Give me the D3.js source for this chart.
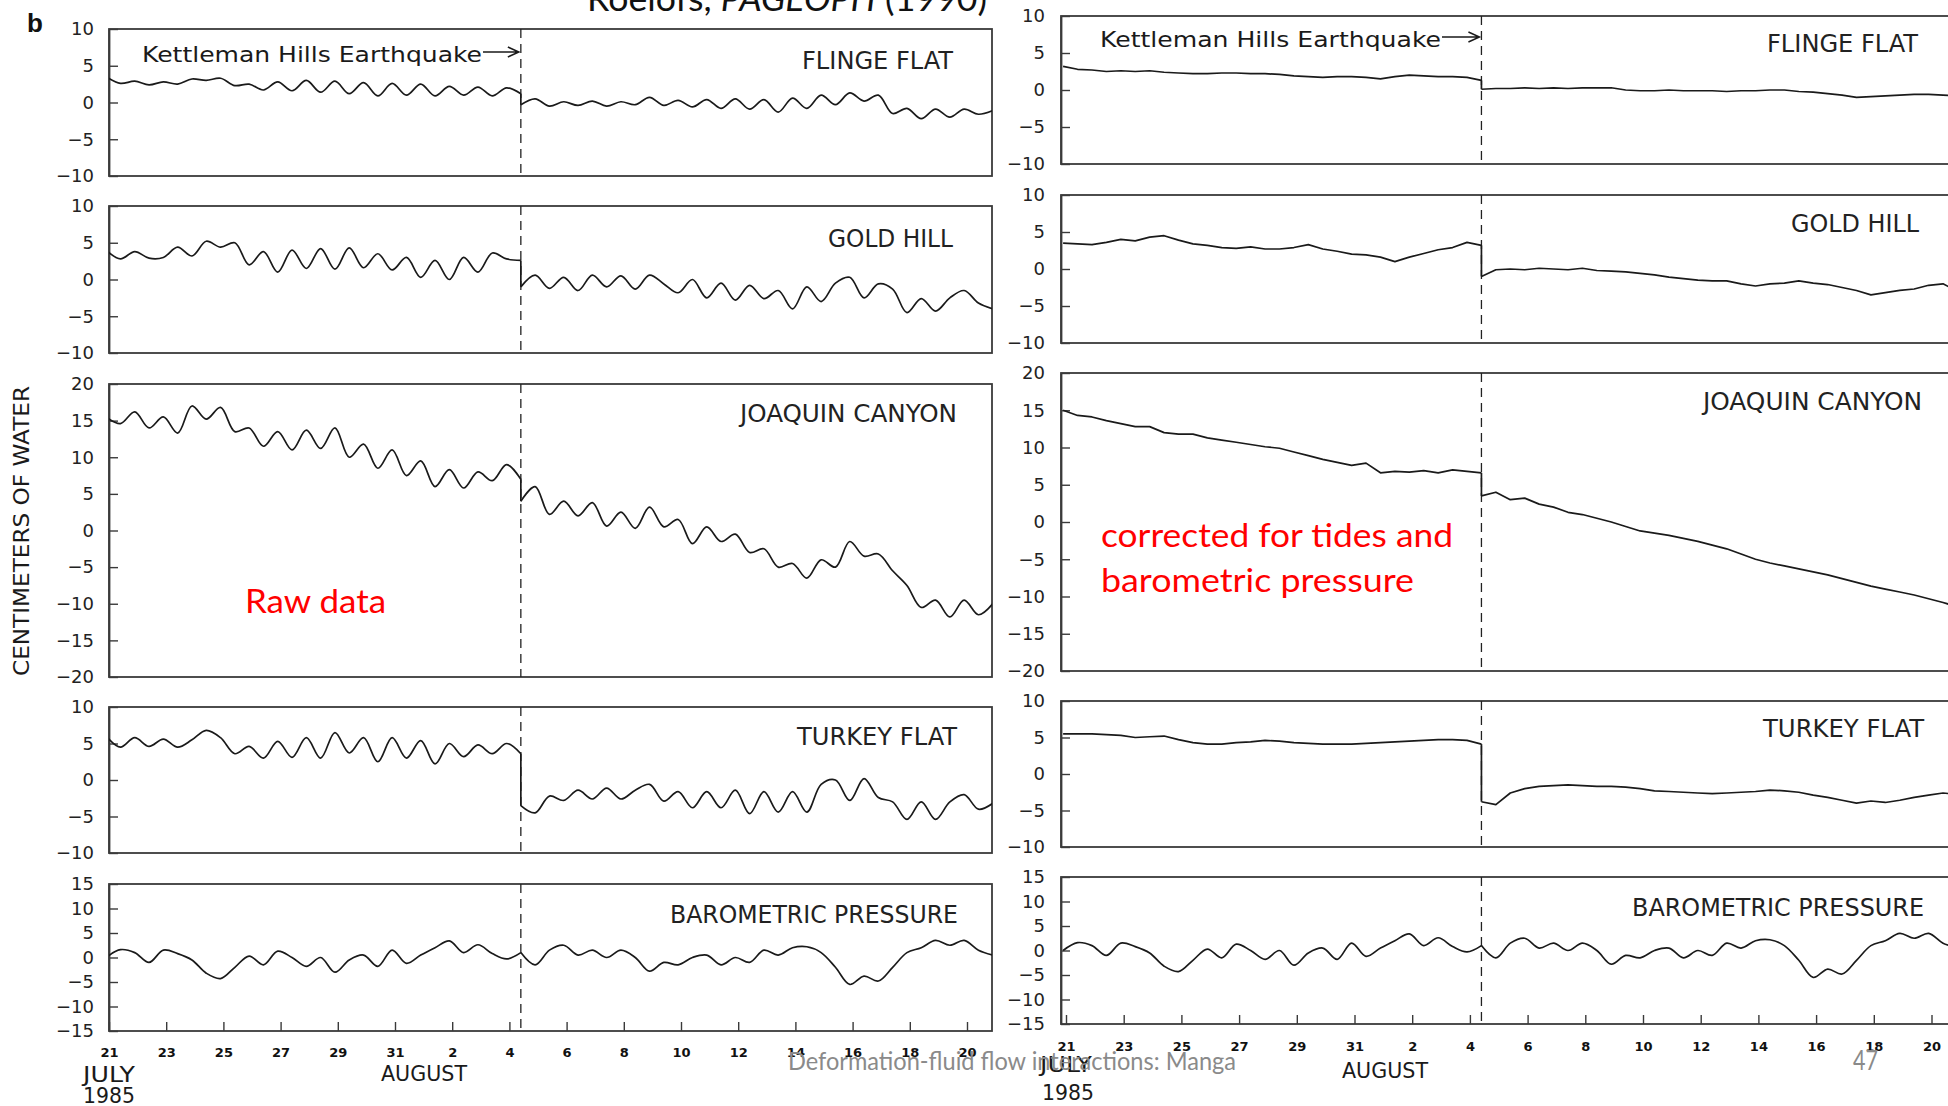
<!DOCTYPE html>
<html>
<head>
<meta charset="utf-8">
<script src="https://cdn.jsdelivr.net/npm/d3@7"></script>
<style>
  html, body { margin: 0; padding: 0; background: #fff; }
  svg { display: block; }
</style>
</head>
<body>
<svg id="chart" width="1948" height="1106"></svg>
<script>
// ---------------- data ----------------
// Time is counted in days after 21 July 1985 (00h). Water levels in cm of water.
const QUAKE_DAY = 14.4;     // Kettleman Hills earthquake, 4 August 1985
const SAMPLE_STEP = 0.5;    // readings every half day

const dayTicks = [0, 2, 4, 6, 8, 10, 12, 14, 16, 18, 20, 22, 24, 26, 28, 30];
const dayTickLabels = ["21", "23", "25", "27", "29", "31", "2", "4", "6", "8", "10", "12", "14", "16", "18", "20"];

const stations = ["FLINGE FLAT", "GOLD HILL", "JOAQUIN CANYON", "TURKEY FLAT", "BAROMETRIC PRESSURE"];
const yDomains = [[-10, 10], [-10, 10], [-20, 20], [-10, 10], [-15, 15]];

// Raw records: 30 readings up to the quake, 34 readings from the quake on
const flingeRawPre  = [3.5, 2.6, 2.9, 2.4, 2.8, 2.5, 3.2, 3.0, 3.3, 2.3, 2.5, 1.7, 2.8, 1.6, 3.0, 1.4, 2.9, 1.2, 2.7, 0.9, 2.6, 1.0, 2.5, 0.9, 2.2, 1.0, 2.1, 0.9, 2.0, 1.2];
const flingeRawPost = [-0.3, 0.5, -0.5, 0.1, -0.4, 0.2, -0.5, 0.1, -0.3, 0.7, -0.4, 0.3, -0.6, 0.4, -0.8, 0.5, -0.9, 0.4, -1.3, 0.6, -0.8, 1.0, -0.3, 1.3, 0.2, 1.0, -1.5, -0.8, -2.2, -0.9, -2.0, -0.9, -1.6, -1.1];

const goldRawPre  = [4.0, 2.8, 3.8, 2.9, 3.0, 4.4, 3.2, 5.2, 4.4, 5.0, 2.0, 3.8, 1.0, 4.0, 1.5, 4.2, 1.4, 4.3, 1.6, 3.5, 1.3, 3.0, 0.3, 2.6, 0.0, 3.0, 1.0, 3.6, 2.8, 2.6];
const goldRawPost = [-1.0, 0.6, -1.2, 0.3, -1.5, 0.6, -1.0, 0.5, -1.3, 0.6, -0.6, -1.8, 0.0, -2.5, -0.5, -2.8, -0.8, -2.6, -1.5, -4.0, -1.0, -3.0, -0.5, 0.3, -2.5, -0.6, -1.3, -4.5, -2.6, -4.3, -2.5, -1.5, -3.2, -4.0];

const joaquinRawPre  = [15.5, 14.6, 16.2, 14.0, 15.5, 13.3, 17.0, 15.2, 16.8, 13.5, 14.0, 11.5, 13.5, 11.0, 13.7, 11.2, 14.0, 10.0, 11.8, 8.5, 11.0, 7.5, 9.5, 6.0, 8.3, 5.8, 8.0, 6.8, 9.0, 7.0];
const joaquinRawPost = [4.0, 6.0, 2.2, 4.0, 2.0, 3.8, 0.6, 2.5, 0.3, 3.2, 0.5, 1.5, -1.8, 0.5, -1.5, -0.5, -3.0, -2.5, -5.0, -4.5, -6.5, -4.0, -5.0, -1.5, -3.5, -3.2, -5.5, -7.5, -10.5, -9.5, -11.8, -9.5, -11.5, -10.0];

const turkeyRawPre  = [6.0, 4.5, 5.8, 4.6, 5.6, 4.5, 5.5, 6.8, 5.8, 3.6, 4.6, 3.0, 5.3, 3.1, 5.8, 3.0, 6.5, 3.7, 5.8, 2.5, 5.8, 3.0, 5.4, 2.2, 5.0, 3.2, 4.8, 3.6, 5.0, 3.6];
const turkeyRawPost = [-3.5, -4.5, -2.2, -2.8, -1.4, -2.6, -1.1, -2.6, -1.4, -0.6, -2.9, -1.6, -3.8, -1.6, -3.8, -1.4, -4.6, -1.6, -4.4, -1.6, -4.4, -0.6, 0.0, -2.8, 0.2, -2.4, -3.0, -5.4, -3.0, -5.4, -3.0, -2.0, -4.0, -3.2];

// Barometric pressure (same record shown with both sets of wells)
const baroPre  = [0.0, 1.6, 1.0, -1.0, 1.5, 0.8, -0.5, -3.2, -4.3, -2.0, 0.3, -1.5, 1.3, 0.0, -1.8, 0.0, -3.0, -0.5, 0.5, -1.8, 1.5, -1.2, 0.5, 2.0, 3.4, 1.0, 2.6, 0.8, -0.3, 1.0];
const baroPost = [1.0, -1.5, 1.5, 2.5, 0.5, 1.5, 0.0, 1.5, 0.0, -2.8, -1.0, -1.5, 0.0, 0.5, -1.5, 0.0, -1.0, 1.5, 0.5, 2.0, 2.2, 1.0, -2.0, -5.5, -3.8, -4.8, -2.0, 1.0, 2.0, 3.5, 2.5, 3.5, 1.5, 0.5];

// Records corrected for earth tides and barometric pressure
const flingeCorrPre  = [3.2, 2.8, 2.7, 2.5, 2.6, 2.5, 2.6, 2.4, 2.3, 2.2, 2.2, 2.3, 2.3, 2.2, 2.2, 2.1, 1.9, 1.8, 1.7, 1.8, 1.8, 1.7, 1.5, 1.8, 2.0, 1.9, 1.8, 1.8, 1.7, 1.3];
const flingeCorrPost = [0.1, 0.2, 0.2, 0.3, 0.2, 0.3, 0.2, 0.3, 0.3, 0.3, 0.0, -0.1, -0.1, 0.0, -0.1, -0.1, -0.1, -0.2, -0.1, -0.1, 0.0, 0.0, -0.2, -0.3, -0.5, -0.7, -1.0, -0.9, -0.8, -0.7, -0.6, -0.6, -0.7, -0.8];

const goldCorrPre  = [3.5, 3.4, 3.3, 3.6, 4.0, 3.8, 4.3, 4.5, 3.9, 3.4, 3.2, 2.9, 2.8, 3.0, 2.7, 2.7, 2.9, 3.3, 2.7, 2.4, 2.0, 1.9, 1.6, 1.0, 1.6, 2.1, 2.6, 2.9, 3.6, 3.2];
const goldCorrPost = [-1.0, -0.1, 0.0, -0.1, 0.1, 0.0, -0.1, 0.1, -0.2, -0.3, -0.4, -0.6, -0.8, -1.1, -1.3, -1.5, -1.6, -1.6, -2.0, -2.3, -2.0, -1.9, -1.6, -1.9, -2.1, -2.5, -2.9, -3.5, -3.2, -2.9, -2.7, -2.2, -2.0, -3.0];

const joaquinCorrPre  = [15.0, 14.3, 14.1, 13.6, 13.2, 12.8, 12.8, 12.0, 11.8, 11.8, 11.3, 11.0, 10.7, 10.4, 10.1, 9.9, 9.4, 8.9, 8.4, 8.0, 7.6, 7.9, 6.6, 6.8, 6.7, 6.9, 6.6, 7.0, 6.8, 6.6];
const joaquinCorrPost = [3.5, 4.0, 3.0, 3.2, 2.4, 2.0, 1.3, 1.0, 0.5, 0.0, -0.6, -1.2, -1.5, -1.8, -2.2, -2.6, -3.1, -3.6, -4.3, -5.0, -5.5, -5.9, -6.3, -6.7, -7.1, -7.6, -8.1, -8.6, -9.0, -9.4, -9.8, -10.3, -10.8, -11.4];

const turkeyCorrPre  = [5.5, 5.5, 5.5, 5.4, 5.3, 5.0, 5.1, 5.2, 4.7, 4.3, 4.1, 4.1, 4.3, 4.4, 4.6, 4.5, 4.3, 4.2, 4.1, 4.1, 4.1, 4.2, 4.3, 4.4, 4.5, 4.6, 4.7, 4.7, 4.6, 4.1];
const turkeyCorrPost = [-3.8, -4.2, -2.6, -2.0, -1.7, -1.6, -1.5, -1.6, -1.7, -1.7, -1.8, -2.0, -2.3, -2.4, -2.5, -2.6, -2.7, -2.6, -2.5, -2.4, -2.2, -2.3, -2.5, -2.9, -3.2, -3.6, -4.0, -3.7, -3.9, -3.6, -3.2, -2.9, -2.6, -2.8];

const rawSeries = [
  [flingeRawPre, flingeRawPost], [goldRawPre, goldRawPost], [joaquinRawPre, joaquinRawPost],
  [turkeyRawPre, turkeyRawPost], [baroPre, baroPost]
];
const corrSeries = [
  [flingeCorrPre, flingeCorrPost], [goldCorrPre, goldCorrPost], [joaquinCorrPre, joaquinCorrPost],
  [turkeyCorrPre, turkeyCorrPost], [baroPre, baroPost]
];

// ---------------- layout ----------------
const smooth = d3.curveCatmullRom.alpha(0.5);
const groups = [
  {
    key: "raw",
    x0: 109, x30: 967, frameLeft: 109, frameRight: 992,
    panels: [[29, 176], [206, 353], [384, 677], [707, 853], [884, 1031]],
    labelRight: [953, 953, 957, 957, 958],
    labelWidth: [151, 125, 217, 160, 288],
    labelBase: [69, 247, 422, 745, 923],
    yPad: 15, xPad: 17,
    quake: { x: 142, base: 61.5, w: 340, arrowY: 52 },
    series: rawSeries,
    curves: [smooth, smooth, smooth, smooth, smooth],
    month: { july: [109, 1082], year: [109, 1103], aug: [424, 1081] }
  },
  {
    key: "corr",
    x0: 1066, x30: 1931.5, frameLeft: 1061, frameRight: 1958,
    panels: [[16, 164], [195, 343], [373, 671], [701, 847], [877, 1024]],
    labelRight: [1918, 1919, 1922, 1924, 1924],
    labelWidth: [151, 128, 219, 161, 292],
    labelBase: [51.5, 231.5, 410, 736.5, 916],
    yPad: 16, xPad: 18,
    quake: { x: 1100, base: 46.5, w: 341, arrowY: 37 },
    series: corrSeries,
    curves: [d3.curveLinear, d3.curveLinear, d3.curveLinear, d3.curveLinear, smooth],
    month: { july: [1066, 1072], year: [1068, 1100], aug: [1385, 1078] }
  }
];

const preDays = d3.range(30).map(i => QUAKE_DAY - SAMPLE_STEP * (29 - i));
const postDays = d3.range(34).map(i => QUAKE_DAY + SAMPLE_STEP * i);
const fmtTick = v => v < 0 ? "\u2212" + Math.abs(v) : String(v);

const svg = d3.select("#chart");
const defs = svg.append("defs");
const ink = "#1a1a1a";
const frameInk = "#3a3a3a";

groups.forEach(G => {
  const x = d3.scaleLinear().domain([0, 30]).range([G.x0, G.x30]);
  const root = svg.append("g").attr("class", "group-" + G.key);

  G.panels.forEach(([top, bottom], pi) => {
    const [lo, hi] = yDomains[pi];
    const y = d3.scaleLinear().domain([lo, hi]).range([bottom, top]);
    const pg = root.append("g");

    const clipId = `clip-${G.key}-${pi}`;
    defs.append("clipPath").attr("id", clipId)
      .append("rect")
      .attr("x", G.frameLeft).attr("y", top)
      .attr("width", G.frameRight - G.frameLeft).attr("height", bottom - top);

    // frame
    pg.append("rect")
      .attr("x", G.frameLeft).attr("y", top)
      .attr("width", G.frameRight - G.frameLeft).attr("height", bottom - top)
      .attr("fill", "none").attr("stroke", frameInk).attr("stroke-width", 1.8);

    // left axis, ticks pointing inward
    const ax = pg.append("g")
      .attr("transform", `translate(${G.frameLeft},0)`)
      .call(d3.axisLeft(y).tickValues(d3.range(lo, hi + 1, 5))
        .tickSize(-9).tickSizeOuter(0).tickPadding(G.yPad).tickFormat(fmtTick));
    ax.select(".domain").attr("stroke", frameInk).attr("stroke-width", 1.8);
    ax.selectAll(".tick line").attr("stroke", frameInk).attr("stroke-width", 1.4);
    ax.selectAll(".tick text")
      .attr("fill", "#222")
      .style("font-family", "'DejaVu Sans', sans-serif")
      .style("font-size", "18px");

    // earthquake marker
    pg.append("line")
      .attr("x1", x(QUAKE_DAY)).attr("x2", x(QUAKE_DAY))
      .attr("y1", top).attr("y2", bottom)
      .attr("stroke", "#222").attr("stroke-width", 1.3)
      .attr("stroke-dasharray", "9,6");

    // record
    const [pre, post] = G.series[pi];
    const preData = pre.map((v, i) => ({ t: preDays[i], v }));
    const postData = post.map((v, i) => ({ t: postDays[i], v }));
    const line = d3.line()
      .defined(d => d.v != null)
      .x(d => x(d.t)).y(d => y(d.v))
      .curve(G.curves[pi]);
    const lines = pg.append("g").attr("clip-path", `url(#${clipId})`)
      .attr("fill", "none").attr("stroke", ink)
      .attr("stroke-width", 1.7).attr("stroke-linejoin", "round");
    lines.append("path").attr("d", line(preData));
    lines.append("path").attr("d", line([preData[preData.length - 1], postData[0]]));
    lines.append("path").attr("d", line(postData));

    // station name
    pg.append("text")
      .attr("x", G.labelRight[pi] - G.labelWidth[pi]).attr("y", G.labelBase[pi])
      .attr("textLength", G.labelWidth[pi]).attr("lengthAdjust", "spacingAndGlyphs")
      .attr("fill", "#222")
      .style("font-family", "'DejaVu Sans', sans-serif")
      .style("font-stretch", "condensed")
      .style("font-size", "24px")
      .text(stations[pi]);

    // time axis under the last panel
    if (pi === G.panels.length - 1) {
      const bx = pg.append("g")
        .attr("transform", `translate(0,${bottom})`)
        .call(d3.axisBottom(x).tickValues(dayTicks)
          .tickSize(-9).tickSizeOuter(0).tickPadding(G.xPad)
          .tickFormat((d, i) => dayTickLabels[i]));
      bx.select(".domain").remove();
      bx.selectAll(".tick line").attr("stroke", frameInk).attr("stroke-width", 1.4);
      bx.selectAll(".tick text")
        .attr("fill", "#111")
        .style("font-family", "'DejaVu Sans', sans-serif")
        .style("font-weight", "bold")
        .style("font-size", "13px");
    }
  });

  // earthquake annotation in the first panel
  const q = G.quake;
  const xq = x(QUAKE_DAY);
  root.append("text")
    .attr("x", q.x).attr("y", q.base)
    .attr("textLength", q.w).attr("lengthAdjust", "spacingAndGlyphs")
    .attr("fill", "#1a1a1a")
    .style("font-family", "'DejaVu Sans', sans-serif")
    .style("font-size", "21px")
    .text("Kettleman Hills Earthquake");
  root.append("path")
    .attr("d", `M${q.x + q.w + 1},${q.arrowY} H${xq - 2} M${xq - 13},${q.arrowY - 5} L${xq - 2},${q.arrowY} L${xq - 13},${q.arrowY + 5}`)
    .attr("fill", "none").attr("stroke", "#1a1a1a").attr("stroke-width", 1.5);

  // month / year captions
  const cap = (pos, txt, w) => root.append("text")
    .attr("x", pos[0]).attr("y", pos[1]).attr("text-anchor", "middle")
    .attr("textLength", w).attr("lengthAdjust", "spacingAndGlyphs")
    .attr("fill", "#1a1a1a")
    .style("font-family", "'DejaVu Sans', sans-serif")
    .style("font-size", "22px")
    .text(txt);
  cap(G.month.july, "JULY", 52);
  cap(G.month.year, "1985", 52);
  cap(G.month.aug, "AUGUST", 86);
});

// shared vertical axis title
svg.append("text")
  .attr("transform", "translate(29,531) rotate(-90)")
  .attr("text-anchor", "middle")
  .attr("textLength", 290).attr("lengthAdjust", "spacingAndGlyphs")
  .attr("fill", "#1a1a1a")
  .style("font-family", "'DejaVu Sans', sans-serif")
  .style("font-size", "21px")
  .text("CENTIMETERS OF WATER");

// panel letter
svg.append("text")
  .attr("x", 27).attr("y", 32)
  .attr("fill", "#111")
  .style("font-family", "'Liberation Sans', Arial, sans-serif")
  .style("font-weight", "bold").style("font-size", "26px")
  .text("b");

// source line, partly above the page edge
const src = svg.append("text")
  .attr("x", 587).attr("y", 11)
  .attr("textLength", 400).attr("lengthAdjust", "spacingAndGlyphs")
  .attr("fill", "#111")
  .style("font-family", "Lato, 'Open Sans', sans-serif")
  .style("font-size", "34px");
src.append("tspan").text("Roelofs, ");
src.append("tspan").style("font-style", "italic").text("PAGEOPH");
src.append("tspan").text(" (1990)");

// red annotations
const note = (xp, yp, w, txt) => svg.append("text")
  .attr("x", xp).attr("y", yp)
  .attr("textLength", w).attr("lengthAdjust", "spacingAndGlyphs")
  .attr("fill", "#ff0000")
  .style("font-family", "Lato, 'Open Sans', sans-serif")
  .style("font-size", "33px")
  .text(txt);
note(245, 613, 141, "Raw data");
note(1101, 547, 352, "corrected for tides and");
note(1101, 592, 313, "barometric pressure");

// slide footer
svg.append("text")
  .attr("x", 788).attr("y", 1070)
  .attr("textLength", 448).attr("lengthAdjust", "spacingAndGlyphs")
  .attr("fill", "#8a8a8a")
  .style("font-family", "Lato, 'Open Sans', sans-serif")
  .style("font-size", "25px")
  .text("Deformation-fluid flow interactions: Manga");
svg.append("text")
  .attr("x", 1853).attr("y", 1070)
  .attr("textLength", 25).attr("lengthAdjust", "spacingAndGlyphs")
  .attr("fill", "#8a8a8a")
  .style("font-family", "Lato, 'Open Sans', sans-serif")
  .style("font-size", "26px")
  .text("47");
</script>
</body>
</html>
